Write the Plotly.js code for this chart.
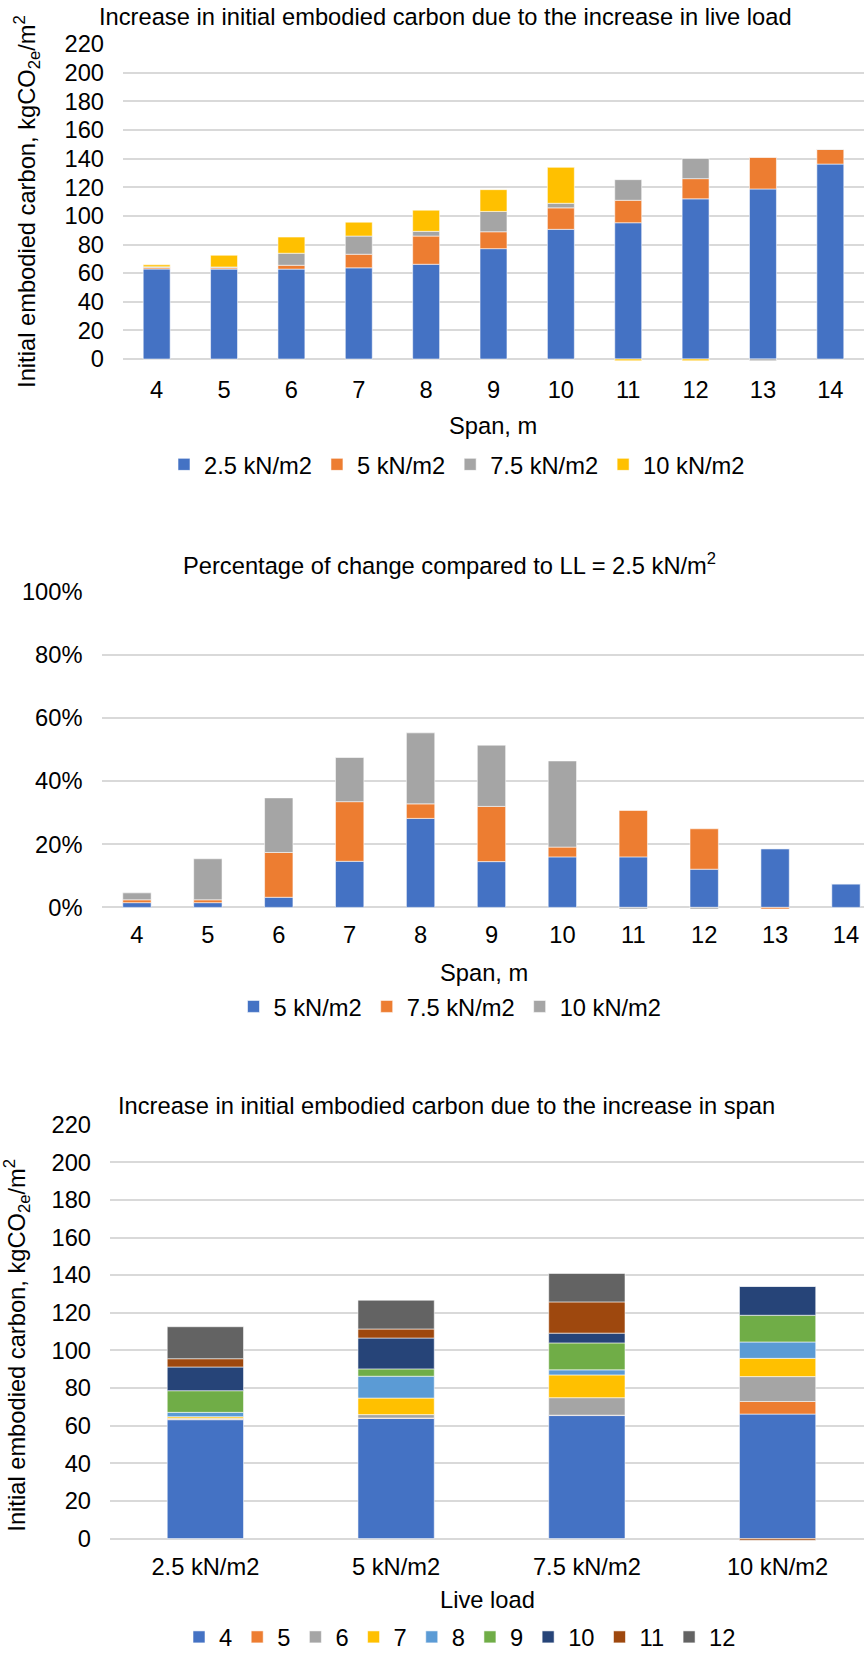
<!DOCTYPE html>
<html><head><meta charset="utf-8">
<script src="https://cdn.plot.ly/plotly-3.0.1.min.js"></script>
<style>html,body{margin:0;padding:0;background:#fff;overflow:hidden}#chart{width:864px;height:1659px;}</style>
</head><body><div id="chart"></div>
<script>
// ---------- data ----------
const spans = ['4','5','6','7','8','9','10','11','12','13','14'];
// Chart 1: embodied carbon (kgCO2e/m2), stacked increments per live load
const ec25 = [62.9, 62.8, 62.8, 63.7, 66.2, 77.1, 90.6, 95.2, 111.9, 118.8, 136.2];
const ec5inc = [0.9, 0.9, 2.7, 9.5, 19.7, 11.8, 15.0, 15.7, 14.1, 22.2, 10.2];
const ec75inc = [0.6, 0.6, 8.4, 12.7, 3.3, 14.2, 3.2, 14.4, 14.1, -1.2, 0.4];
const ec10inc = [1.4, 8.2, 11.3, 9.7, 14.8, 15.2, 25.1, -1.2, -1.2, 0, 0];
const names1 = ['2.5 kN/m2', '5 kN/m2', '7.5 kN/m2', '10 kN/m2'];

// Chart 2: percentage of change compared to LL = 2.5 kN/m2
const pct5 = [1.5, 1.5, 3.2, 14.6, 28.2, 14.5, 16.0, 16.0, 12.1, 18.6, 7.5];
const pct75 = [0.9, 0.9, 14.2, 18.9, 4.6, 17.5, 3.1, 14.7, 12.8, -0.5, 0];
const pct10 = [2.2, 13.0, 17.3, 14.0, 22.5, 19.4, 27.3, -0.5, -0.5, 0, 0];
const names2 = ['5 kN/m2', '7.5 kN/m2', '10 kN/m2'];
const pctTicks = [0, 20, 40, 60, 80, 100];
const pctTickText = ['0%', '20%', '40%', '60%', '80%', '100%'];

// Chart 3: increase due to span, per live load
const loads = ['2.5 kN/m2', '5 kN/m2', '7.5 kN/m2', '10 kN/m2'];
const sp4 = [63.2, 63.9, 65.4, 66.2];
const sp5 = [0.3, 0.2, 0.2, 6.7];
const sp6 = [0.5, 1.8, 9.3, 13.2];
const sp7 = [0.8, 8.8, 12.1, 9.7];
const sp8 = [2.3, 11.6, 2.7, 8.7];
const sp9 = [11.5, 3.9, 14.3, 14.2];
const sp10 = [12.6, 16.4, 5.2, 15.4];
const sp11 = [4.4, 4.8, 16.6, -0.8];
const sp12 = [17.0, 15.3, 15.1, 0];
const names3 = ['4', '5', '6', '7', '8', '9', '10', '11', '12'];

// ---------- styling ----------
const W = 864, H = 1659;
const FONT = '"Liberation Sans", Arial, sans-serif';
const FS = 23.7;
const px = x => x / W;
const py = y => 1 - y / H;
const col1 = ['#4472C4', '#ED7D31', '#A5A5A5', '#FFC000'];
const col3 = ['#4472C4', '#ED7D31', '#A5A5A5', '#FFC000', '#5B9BD5', '#70AD47', '#264478', '#9E480E', '#636363'];
const barLine = {color: 'rgba(255,255,255,0.8)', width: 0.7};

function bar(x, y, name, color, ax, leg) {
  return {type: 'bar', x: x, y: y, name: name, marker: {color: color, line: barLine},
    xaxis: 'x' + ax, yaxis: 'y' + ax, legend: leg, hoverinfo: 'skip'};
}
const traces = [];
[ec25, ec5inc, ec75inc, ec10inc].forEach((s, i) => traces.push(bar(spans, s, names1[i], col1[i], '', 'legend')));
[pct5, pct75, pct10].forEach((s, i) => traces.push(bar(spans, s, names2[i], col1[i], '2', 'legend2')));
[sp4, sp5, sp6, sp7, sp8, sp9, sp10, sp11, sp12].forEach((s, i) => traces.push(bar(loads, s, names3[i], col3[i], '3', 'legend3')));

function xa(left, right, range, anchor, standoff) {
  return {domain: [px(left), px(right)], range: range, type: 'category', anchor: anchor, showgrid: false, zeroline: false,
    showline: false, ticks: '', tickfont: {size: FS, color: '#000'}, ticklabelstandoff: standoff, fixedrange: true};
}
function ya(top, bottom, range, anchor, extra) {
  return Object.assign({domain: [py(bottom), py(top)], range: range, anchor: anchor, tick0: 0, dtick: 20, gridcolor: '#d9d9d9',
    gridwidth: 2, zeroline: false, showline: false, ticks: '', tickfont: {size: FS, color: '#000'},
    ticklabelstandoff: 18, fixedrange: true}, extra || {});
}
function leg(xc, yc) {
  return {orientation: 'h', x: px(xc), xanchor: 'center', y: py(yc), yanchor: 'middle',
    bgcolor: 'rgba(0,0,0,0)', font: {size: FS, color: '#000', family: FONT}, traceorder: 'normal'};
}
function ann(text, x, y, extra) {
  return Object.assign({text: text, x: px(x), y: py(y), xref: 'paper', yref: 'paper', showarrow: false,
    xanchor: 'center', yanchor: 'middle', font: {size: FS, color: '#000', family: FONT}}, extra || {});
}
const ytitle = 'Initial embodied carbon, kgCO<sub>2e</sub>/m<sup>2</sup>';

const layout = {
  width: W, height: H, margin: {l: 0, r: 0, t: 0, b: 0}, paper_bgcolor: '#fff', plot_bgcolor: '#fff',
  font: {family: FONT, size: FS, color: '#000'},
  barmode: 'relative', bargap: 0.6,
  xaxis: xa(123, 864, [-0.5, 10.5], 'y', 10),
  yaxis: ya(43.9, 365.3, [-3, 220.3], 'x'),
  xaxis2: xa(101.5, 864, [-0.5, 10.254], 'y2', 8),
  yaxis2: ya(594.4, 915.5, [-1, 100.2], 'x2', {tickmode: 'array', tickvals: pctTicks, ticktext: pctTickText}),
  xaxis3: xa(110, 864, [-0.5, 3.453], 'y3', 8),
  yaxis3: ya(1130.2, 1550.8, [-2, 220.3], 'x3'),
  legend: leg(457, 467),
  legend2: leg(450, 1012),
  legend3: leg(460, 1646),
  annotations: [
    ann('Increase in initial embodied carbon due to the increase in live load', 445, 17),
    ann(ytitle, 27, 203, {textangle: -90}),
    ann('Span, m', 493, 428),
    ann('Percentage of change compared to LL = 2.5 kN/m<sup>2</sup>', 449, 567),
    ann('Span, m', 484, 978),
    ann('Increase in initial embodied carbon due to the increase in span', 446, 1112),
    ann(ytitle, 17, 1353, {textangle: -90}),
    ann('Live load', 487, 1609)
  ],
  showlegend: true
};
Plotly.newPlot('chart', traces, layout, {staticPlot: true, displayModeBar: false});
</script></body></html>
